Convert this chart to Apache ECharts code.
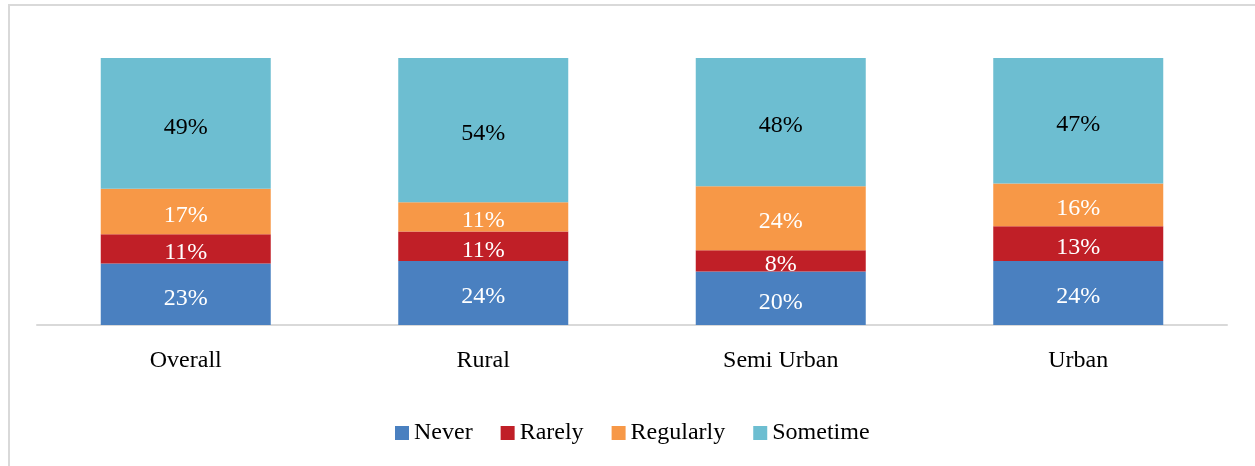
<!DOCTYPE html>
<html>
<head>
<meta charset="utf-8">
<script src="https://cdn.jsdelivr.net/npm/echarts@6/dist/echarts.min.js"></script>
<style>
  html, body { margin: 0; padding: 0; background: #fff; }
  #chart { width: 1255px; height: 466px; }
</style>
</head>
<body>
<div id="chart"></div>
<script>
const categories = ['Overall', 'Rural', 'Semi Urban', 'Urban'];
const never = [23, 24, 20, 24];
const rarely = [11, 11, 8, 13];
const regularly = [17, 11, 24, 16];
const sometime = [49, 54, 48, 47];

const font = 'Liberation Serif';

function makeSeries(name, data, color, labelColor) {
  return {
    name: name,
    type: 'bar',
    stack: 'total',
    barWidth: 170,
    data: data,
    itemStyle: { color: color },
    label: {
      show: true,
      position: 'inside',
      offset: [0, 4],
      formatter: '{c}%',
      color: labelColor,
      fontFamily: font,
      fontSize: 24
    }
  };
}

const myChart = echarts.init(document.getElementById('chart'));

const option = {
  animation: false,
  graphic: [
    {
      type: 'rect',
      shape: { x: 9, y: 5, width: 1300, height: 500 },
      style: { fill: 'none', stroke: '#d9d9d9', lineWidth: 2 },
      silent: true
    }
  ],
  grid: { left: 37, right: 28, top: 58, bottom: 141 },
  legend: {
    left: 390,
    top: 416,
    icon: 'rect',
    itemWidth: 14,
    itemHeight: 14,
    itemGap: 28,
    textStyle: { fontFamily: font, fontSize: 24, color: '#000' },
    data: ['Never', 'Rarely', 'Regularly', 'Sometime']
  },
  xAxis: {
    type: 'category',
    data: categories,
    axisTick: { show: false },
    axisLine: { lineStyle: { color: '#d9d9d9', width: 2 } },
    axisLabel: { margin: 24, fontFamily: font, fontSize: 24, color: '#000' }
  },
  yAxis: {
    type: 'value',
    min: 0,
    max: 100,
    show: false
  },
  series: [
    makeSeries('Never', never, '#4a80c0', '#fff'),
    makeSeries('Rarely', rarely, '#c01f27', '#fff'),
    makeSeries('Regularly', regularly, '#f79847', '#fff'),
    makeSeries('Sometime', sometime, '#6dbed1', '#000')
  ]
};

myChart.setOption(option);
</script>
</body>
</html>
